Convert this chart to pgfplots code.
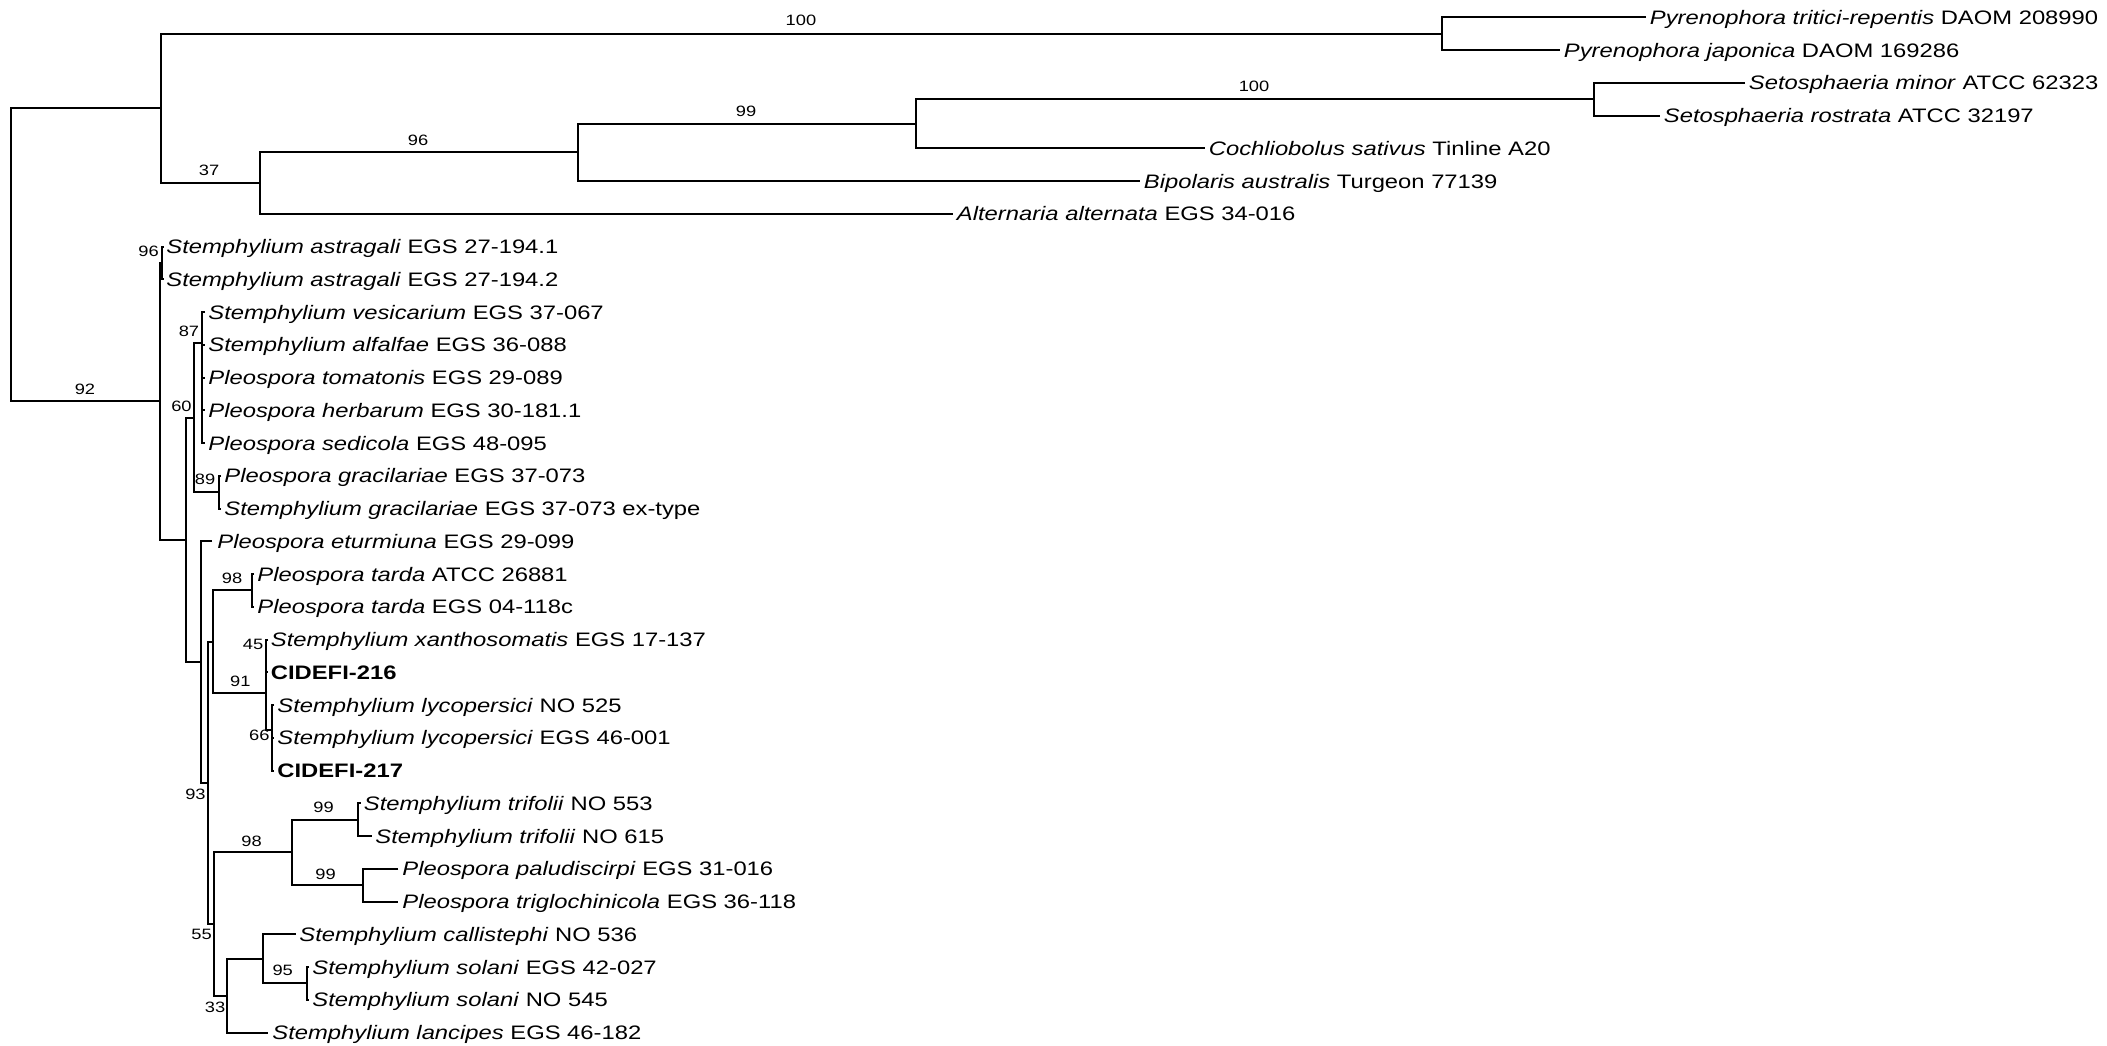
\documentclass[border=0pt]{standalone}
\usepackage{pgfplots}
\pgfplotsset{compat=1.18}
\usepackage{fontspec}
\setmainfont{Liberation Sans}[FakeStretch=1.22]
\newcommand\tf{\fontsize{9.75pt}{11pt}\selectfont}
\newcommand\lf{\fontsize{7.5pt}{8pt}\selectfont}
\tikzset{tree/.style={black, line width=1pt, line join=miter},
  tip/.style={anchor=base west, yshift=-3.5pt, inner sep=0pt, font=\tf},
  bs/.style={anchor=center, inner sep=0pt, font=\lf}}
\begin{document}
\begin{tikzpicture}
\useasboundingbox (0,0) rectangle (1053.5pt,522.5pt);
\begin{axis}[scale only axis, width=1053.5pt, height=522.5pt,
  xmin=0, xmax=2107, ymin=0, ymax=1045, y dir=reverse, hide axis, clip=false]
% ---- upper clade ----
\addplot[tree] coordinates {(1646,17.3) (1441.5,17.3) (1441.5,50.05) (1560,50.05)};
\addplot[tree] coordinates {(1745,82.8) (1594,82.8) (1594,115.55) (1660,115.55)};
\addplot[tree] coordinates {(1594,99.2) (915.5,99.2) (915.5,148.3) (1205,148.3)};
\addplot[tree] coordinates {(915.5,123.75) (578,123.75) (578,181.05) (1140,181.05)};
\addplot[tree] coordinates {(578,152.4) (260,152.4) (260,213.8) (953,213.8)};
\addplot[tree] coordinates {(1441.5,33.7) (161,33.7) (161,183.1) (260,183.1)};
\addplot[tree] coordinates {(161,108.4) (11,108.4) (11,401.3) (160,401.3)};
% ---- Stemphylium clade ----
\addplot[tree] coordinates {(161.5,262.9) (160,262.9) (160,539.8) (186,539.8)};
\addplot[tree] coordinates {(163.5,246.55) (161.5,246.55) (161.5,279.3) (163.5,279.3)};
\addplot[tree] coordinates {(194,417.5) (186,417.5) (186,662) (201,662)};
\addplot[tree] coordinates {(202,342.8) (194,342.8) (194,492.2) (219,492.2)};
\addplot[tree] coordinates {(205,312.05) (202,312.05) (202,443.05) (205,443.05)};
\addplot[tree] coordinates {(202,344.8) (205,344.8)};
\addplot[tree] coordinates {(202,377.55) (205,377.55)};
\addplot[tree] coordinates {(202,410.3) (205,410.3)};
\addplot[tree] coordinates {(221,475.8) (219,475.8) (219,508.55) (221,508.55)};
\addplot[tree] coordinates {(212,541.3) (201,541.3) (201,782.8) (208,782.8)};
\addplot[tree] coordinates {(213,641.6) (208,641.6) (208,924.1) (214,924.1)};
\addplot[tree] coordinates {(251.7,590.4) (213,590.4) (213,692.75) (266,692.75)};
\addplot[tree] coordinates {(254,574.05) (251.7,574.05) (251.7,606.8) (254,606.8)};
\addplot[tree] coordinates {(268,639.55) (266,639.55) (266,729.6) (272,729.6)};
\addplot[tree] coordinates {(266,672.3) (268,672.3)};
\addplot[tree] coordinates {(274,705.05) (272,705.05) (272,770.55) (274,770.55)};
\addplot[tree] coordinates {(272,737.8) (274,737.8)};
\addplot[tree] coordinates {(291.7,852.4) (214,852.4) (214,995.7) (227.3,995.7)};
\addplot[tree] coordinates {(358.3,819.7) (291.7,819.7) (291.7,885.2) (363.3,885.2)};
\addplot[tree] coordinates {(360.5,803.3) (358.3,803.3) (358.3,836.05) (371.7,836.05)};
\addplot[tree] coordinates {(398.3,868.8) (363.3,868.8) (363.3,901.55) (398.3,901.55)};
\addplot[tree] coordinates {(262.7,958.9) (227.3,958.9) (227.3,1032.55) (268.3,1032.55)};
\addplot[tree] coordinates {(295.7,934.3) (262.7,934.3) (262.7,983.4) (306.7,983.4)};
\addplot[tree] coordinates {(309,967.05) (306.7,967.05) (306.7,999.8) (309,999.8)};
% ---- tip labels ----
\node[tip] at (axis cs:1649.5,17.3) {\textit{Pyrenophora tritici-repentis} DAOM 208990};
\node[tip] at (axis cs:1563.5,50.05) {\textit{Pyrenophora japonica} DAOM 169286};
\node[tip] at (axis cs:1748.5,82.8) {\textit{Setosphaeria minor} ATCC 62323};
\node[tip] at (axis cs:1663.5,115.55) {\textit{Setosphaeria rostrata} ATCC 32197};
\node[tip] at (axis cs:1208.5,148.3) {\textit{Cochliobolus sativus} Tinline A20};
\node[tip] at (axis cs:1143.5,181.05) {\textit{Bipolaris australis} Turgeon 77139};
\node[tip] at (axis cs:956.5,213.8) {\textit{Alternaria alternata} EGS 34-016};
\node[tip] at (axis cs:166,246.55) {\textit{Stemphylium astragali} EGS 27-194.1};
\node[tip] at (axis cs:166,279.3) {\textit{Stemphylium astragali} EGS 27-194.2};
\node[tip] at (axis cs:208,312.05) {\textit{Stemphylium vesicarium} EGS 37-067};
\node[tip] at (axis cs:208,344.8) {\textit{Stemphylium alfalfae} EGS 36-088};
\node[tip] at (axis cs:208,377.55) {\textit{Pleospora tomatonis} EGS 29-089};
\node[tip] at (axis cs:208,410.3) {\textit{Pleospora herbarum} EGS 30-181.1};
\node[tip] at (axis cs:208,443.05) {\textit{Pleospora sedicola} EGS 48-095};
\node[tip] at (axis cs:224,475.8) {\textit{Pleospora gracilariae} EGS 37-073};
\node[tip] at (axis cs:224,508.55) {\textit{Stemphylium gracilariae} EGS 37-073 ex-type};
\node[tip] at (axis cs:217,541.3) {\textit{Pleospora eturmiuna} EGS 29-099};
\node[tip] at (axis cs:257,574.05) {\textit{Pleospora tarda} ATCC 26881};
\node[tip] at (axis cs:257,606.8) {\textit{Pleospora tarda} EGS 04-118c};
\node[tip] at (axis cs:270.5,639.55) {\textit{Stemphylium xanthosomatis} EGS 17-137};
\node[tip] at (axis cs:270.5,672.3) {\textbf{CIDEFI-216}};
\node[tip] at (axis cs:277,705.05) {\textit{Stemphylium lycopersici} NO 525};
\node[tip] at (axis cs:277,737.8) {\textit{Stemphylium lycopersici} EGS 46-001};
\node[tip] at (axis cs:277,770.55) {\textbf{CIDEFI-217}};
\node[tip] at (axis cs:363.5,803.3) {\textit{Stemphylium trifolii} NO 553};
\node[tip] at (axis cs:375,836.05) {\textit{Stemphylium trifolii} NO 615};
\node[tip] at (axis cs:402,868.8) {\textit{Pleospora paludiscirpi} EGS 31-016};
\node[tip] at (axis cs:402,901.55) {\textit{Pleospora triglochinicola} EGS 36-118};
\node[tip] at (axis cs:299,934.3) {\textit{Stemphylium callistephi} NO 536};
\node[tip] at (axis cs:312,967.05) {\textit{Stemphylium solani} EGS 42-027};
\node[tip] at (axis cs:312,999.8) {\textit{Stemphylium solani} NO 545};
\node[tip] at (axis cs:272,1032.55) {\textit{Stemphylium lancipes} EGS 46-182};
% ---- bootstrap values ----
\node[bs] at (axis cs:801,20.5) {100};
\node[bs] at (axis cs:1254,86.5) {100};
\node[bs] at (axis cs:746,111.5) {99};
\node[bs] at (axis cs:418,140) {96};
\node[bs] at (axis cs:209,170.7) {37};
\node[bs] at (axis cs:85,389) {92};
\node[bs] at (axis cs:148.5,251) {96};
\node[bs] at (axis cs:189,331) {87};
\node[bs] at (axis cs:181.5,406.5) {60};
\node[bs] at (axis cs:205,479) {89};
\node[bs] at (axis cs:232,578) {98};
\node[bs] at (axis cs:253,644) {45};
\node[bs] at (axis cs:240.3,681.5) {91};
\node[bs] at (axis cs:259.3,735) {66};
\node[bs] at (axis cs:195.5,794) {93};
\node[bs] at (axis cs:323.5,807) {99};
\node[bs] at (axis cs:251.5,841) {98};
\node[bs] at (axis cs:325.5,874.5) {99};
\node[bs] at (axis cs:201.6,934) {55};
\node[bs] at (axis cs:282.7,970) {95};
\node[bs] at (axis cs:215,1007.5) {33};
\end{axis}
\end{tikzpicture}
\end{document}
